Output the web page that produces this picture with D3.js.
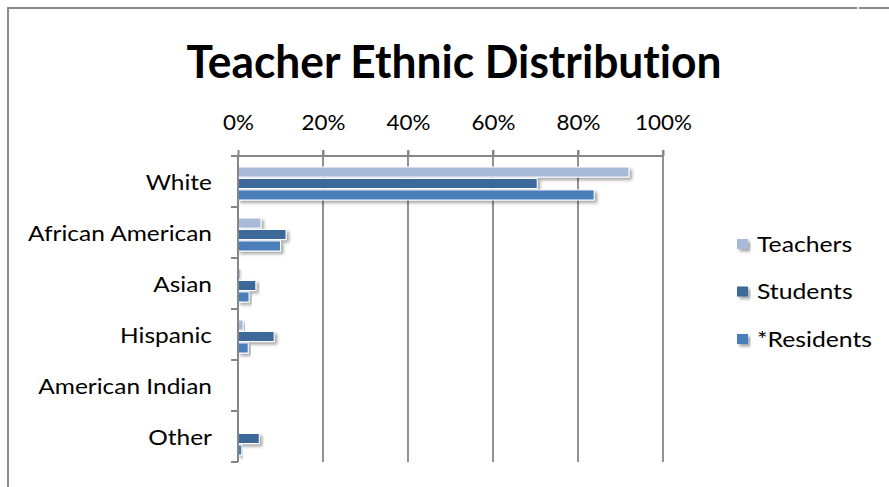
<!DOCTYPE html>
<html><head><meta charset="utf-8">
<script src="https://cdn.jsdelivr.net/npm/d3@7"></script>
<style>body{margin:0;background:#fff;} svg{display:block;} text{font-family:Lato,"Open Sans",sans-serif;fill:#000;font-variant-ligatures:none;}</style>
</head><body>
<svg id="c" width="889" height="487"></svg>
<script>
const title = "Teacher Ethnic Distribution";
const categories = ["White","African American","Asian","Hispanic","American Indian","Other"];
const seriesNames = ["Teachers","Students","*Residents"];
const teachers  = [92.0, 5.4, 0.7, 1.2, 0.1, 0.1];
const students  = [70.4, 11.3, 4.2, 8.5, 0.1, 5.0];
const residents = [83.8, 10.0, 2.6, 2.4, 0.1, 0.9];
const tickValues = [0,20,40,60,80,100];
const colors = ["#A9BAD9","#3E679A","#4A7EBB"];

const seriesValues = [teachers, students, residents];
const svg = d3.select("#c");

// outer chart border
svg.append("rect").attr("x",8).attr("y",8).attr("width",1000).attr("height",600)
  .attr("fill","none").attr("stroke","#8a8a8a").attr("stroke-width",2);
svg.append("line").attr("x1",858).attr("x2",858).attr("y1",6).attr("y2",11).attr("stroke","#fff").attr("stroke-width",1.5);

const defs = svg.append("defs");
const f = defs.append("filter").attr("id","sh").attr("x","-10%").attr("y","-50%").attr("width","130%").attr("height","250%");
f.append("feDropShadow").attr("dx",2.5).attr("dy",2.5).attr("stdDeviation",1.6).attr("flood-color","#000").attr("flood-opacity",0.35);

const x = d3.scaleLinear().domain([0,100]).range([238,663]);
const y = d3.scaleBand().domain(categories).range([156,462]);
const yi = d3.scaleBand().domain(seriesNames).range([11,44]).paddingInner(0.12);

// gridlines
svg.append("g").selectAll("line").data(tickValues.slice(1)).join("line")
  .attr("x1",d=>x(d)).attr("x2",d=>x(d)).attr("y1",150).attr("y2",462)
  .attr("stroke","#868686").attr("stroke-width",1.8);

// bars
const data = [];
categories.forEach((c,i)=>seriesNames.forEach((s,j)=>data.push({c,s,j,v:seriesValues[j][i]})));
svg.append("g").selectAll("rect").data(data).join("rect")
  .attr("x",x(0)).attr("y",d=>y(d.c)+yi(d.s))
  .attr("width",d=>Math.max(0,x(d.v)-x(0))).attr("height",yi.bandwidth())
  .attr("fill",d=>colors[d.j]).attr("stroke","#fff").attr("stroke-width",1)
  .attr("filter","url(#sh)");

// axes
const topAxis = svg.append("g").attr("transform","translate(0,156)")
  .call(d3.axisTop(x).tickValues(tickValues).tickFormat(d=>d+"%").tickSize(6).tickPadding(20));
topAxis.select(".domain").attr("d","M231,0H663").attr("stroke","#868686").attr("stroke-width",2);
topAxis.selectAll(".tick line").attr("stroke","#868686").attr("stroke-width",2);
topAxis.selectAll(".tick text").style("font-size","22px").style("font-family","Lato").attr("fill","#000");

const left = svg.append("g");
left.append("line").attr("x1",238).attr("x2",238).attr("y1",156).attr("y2",462).attr("stroke","#868686").attr("stroke-width",2);
const bounds = categories.map(c=>y(c)).concat([y.range()[1]]);
left.selectAll("line.t").data(bounds).join("line").attr("class","t")
  .attr("x1",231).attr("x2",238).attr("y1",d=>d).attr("y2",d=>d).attr("stroke","#868686").attr("stroke-width",2);
const labs = left.selectAll("text").data(categories).join("text")
  .attr("x",212).attr("y",d=>y(d)+y.bandwidth()/2+8).attr("text-anchor","end")
  .style("font-size","22px").text(d=>d);

// legend
const lg = svg.append("g");
seriesNames.forEach((s,i)=>{
  const yy = 244 + i*47.5;
  lg.append("rect").attr("x",737).attr("y",yy-5).attr("width",11).attr("height",10).attr("fill",colors[i])
    .attr("filter","url(#sh)");
  lg.append("text").attr("x",757).attr("y",yy+7.5).style("font-size","21px").text(s);
});

// title
const tt = svg.append("text").attr("x",454).attr("y",78).attr("text-anchor","middle")
  .style("font-size","46px").style("font-weight","bold").text(title);

// horizontal compression to mimic Calibri widths
function fit(sel, refText, target){
  let nat = null;
  sel.each(function(){ if(this.textContent===refText) nat=this.getComputedTextLength(); });
  const k = target/nat;
  sel.each(function(){ const w=this.getComputedTextLength(); d3.select(this).attr("textLength",w*k).attr("lengthAdjust","spacingAndGlyphs"); });
}
fit(tt, title, 535);
fit(labs, "African American", 184);
fit(topAxis.selectAll(".tick text"), "100%", 57);
fit(lg.selectAll("text"), "*Residents", 115);
</script>
</body></html>
